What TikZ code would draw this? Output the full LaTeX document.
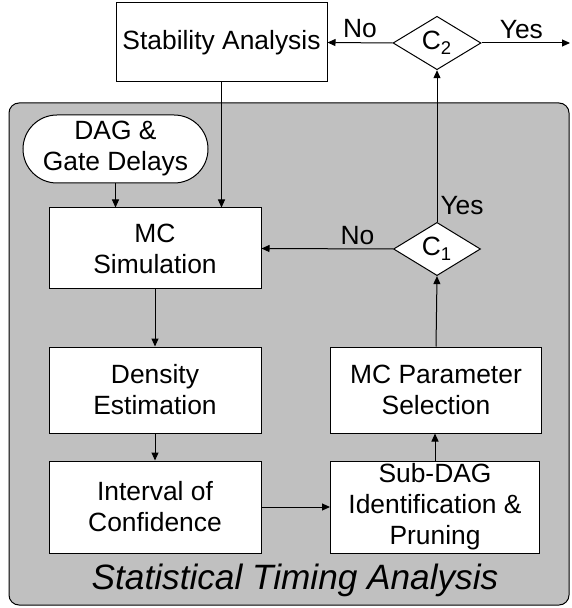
\documentclass[tikz,border=0pt]{standalone}
\usepackage{fontspec}
\setmainfont{Liberation Sans}
\usetikzlibrary{shapes.geometric,arrows.meta}
\definecolor{panelgray}{RGB}{192,192,192}
\tikzset{%
  block/.style={draw, fill=white, rectangle, inner sep=0pt, align=center, line width=0.5pt, font=\fontsize{13.2}{15.5}\selectfont},
  decision/.style={draw, fill=white, diamond, inner sep=0pt, line width=0.5pt, font=\fontsize{13.2}{15.5}\selectfont},
  flow/.style={-{Triangle[length=4pt,width=3.5pt]}, line width=0.5pt},
  answer/.style={font=\fontsize{13.2}{15.5}\selectfont, inner sep=2pt}
}

\begin{document}
\begin{tikzpicture}[x=0.5pt, y=-0.5pt]
\useasboundingbox (0,0) rectangle (571,608);

% shaded timing analysis panel
\draw[fill=panelgray, rounded corners=5pt, line width=0.5pt] (9,103) rectangle (569,605);
\node[font=\fontsize{17.6}{20}\selectfont\itshape] (title) at (295,580) {Statistical Timing Analysis};

% top row
\node[block, minimum width=105.5pt, minimum height=39.5pt] (stab) at (221.5,42.5) {Stability Analysis};
\node[decision, minimum width=44pt, minimum height=26.5pt] (c2) at (437,43) {C\textsubscript{2}};
\coordinate (out) at (570,43);

% left column
\node[block, rounded corners=17pt, minimum width=92.5pt, minimum height=34pt] (dag) at (115.5,149) {DAG \&\\Gate Delays};
\node[block, minimum width=106pt, minimum height=40.5pt] (mcsim) at (155,248.5) {MC\\Simulation};
\node[block, minimum width=106pt, minimum height=43pt] (dens) at (155,390) {Density\\Estimation};
\node[block, minimum width=106pt, minimum height=46pt] (conf) at (155,507) {Interval of\\Confidence};

% right column
\node[decision, minimum width=43.5pt, minimum height=26pt] (c1) at (437,249) {C\textsubscript{1}};
\node[block, minimum width=105.5pt, minimum height=43pt] (mcpar) at (436,390) {MC Parameter\\Selection};
\node[block, minimum width=104.5pt, minimum height=46pt] (subdag) at (435,507) {Sub-DAG\\Identification \&\\Pruning};

% connectors
\draw[flow] (c2.west) -- node[answer, above, pos=0.5] {No} (stab.east);
\draw[flow] (c2.east) -- node[answer, above, pos=0.45] {Yes} (out);
\draw[flow] (stab.south) -- (stab.south |- mcsim.north);
\draw[flow] (dag.south) -- (dag.south |- mcsim.north);
\draw[flow] (mcsim.south) -- (dens.north);
\draw[flow] (dens.south) -- (conf.north);
\draw[flow] (conf.east) -- (subdag.west);
\draw[flow] (subdag.north) -- (subdag.north |- mcpar.south);
\draw[flow] (mcpar.north) -- (c1.south);
\draw[flow] (c1.west) -- node[answer, above, pos=0.27] {No} (mcsim.east);
\draw[flow] (c1.north) -- node[answer, pos=0, anchor=south west, inner xsep=1.5pt, inner ysep=3.5pt] {Yes} (c2.south);
\end{tikzpicture}
\end{document}
